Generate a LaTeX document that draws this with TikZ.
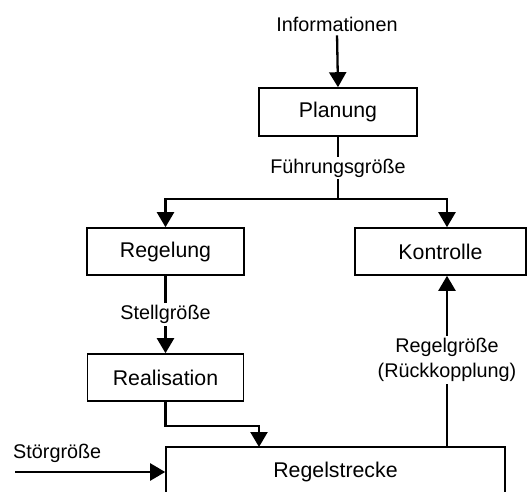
\documentclass[tikz,border=0pt]{standalone}
\usepackage{fontspec}
\setmainfont{Liberation Sans}
\usetikzlibrary{arrows.meta}
\begin{document}
\begin{tikzpicture}[x=1pt,y=-1pt,
  block/.style={draw,line width=1.6pt,minimum width=#1,minimum height=47pt,
    inner sep=0pt,font=\fontsize{21.3}{25}\selectfont},
  lbl/.style={font=\fontsize{19.8}{25}\selectfont,inner sep=2pt,align=center},
  flow/.style={line width=2.3pt,-{Triangle[width=17pt,length=15pt]}},
  wire/.style={line width=2.3pt}]
\clip (0,0) rectangle (528,492);
\fill[white] (0,0) rectangle (528,492);

% blocks
\node[block=158pt,minimum height=48pt] (plan) at (338,112) {Planung};
\node[block=157pt] (regel) at (165.5,251.5) {Regelung};
\node[block=171pt] (kontr) at (440.5,251.5) {Kontrolle};
\node[block=156pt] (real) at (165.5,377.5) {Realisation};
\node[block=339pt,minimum height=50pt] (strecke) at (335.5,472) {Regelstrecke};

% free labels and connector ends
\node[lbl] (info) at (337,24) {Informationen};
\node[lbl,anchor=west] (stoer) at (11,453) {Störgröße};
\coordinate (split) at (338,199);
\coordinate (kin) at ([xshift=6.5pt]kontr.north);
\coordinate (kout) at ([xshift=6.5pt]kontr.south);
\coordinate (rin) at (259,447);
\coordinate (sin) at (15,472);

% connectors
\draw[flow,shorten <=2pt] (info.south) -- (plan.north);
\draw[wire] (plan.south) -- node[lbl,fill=white] (fg) {Führungsgröße} (split);
\draw[flow] (split) -| (regel.north);
\draw[flow] (split) -| (kin);
\draw[flow] (regel.south) -- node[lbl,fill=white] (stell) {Stellgröße} (real.north);
\draw[flow] (real.south) -- ++(0,24) -| (rin);
\draw[flow] (sin) -- (strecke.west);
\draw[flow] (strecke.north -| kout) -- node[lbl,fill=white,yshift=1pt] (rg) {Regelgröße\\(Rückkopplung)} (kout);
\end{tikzpicture}
\end{document}
